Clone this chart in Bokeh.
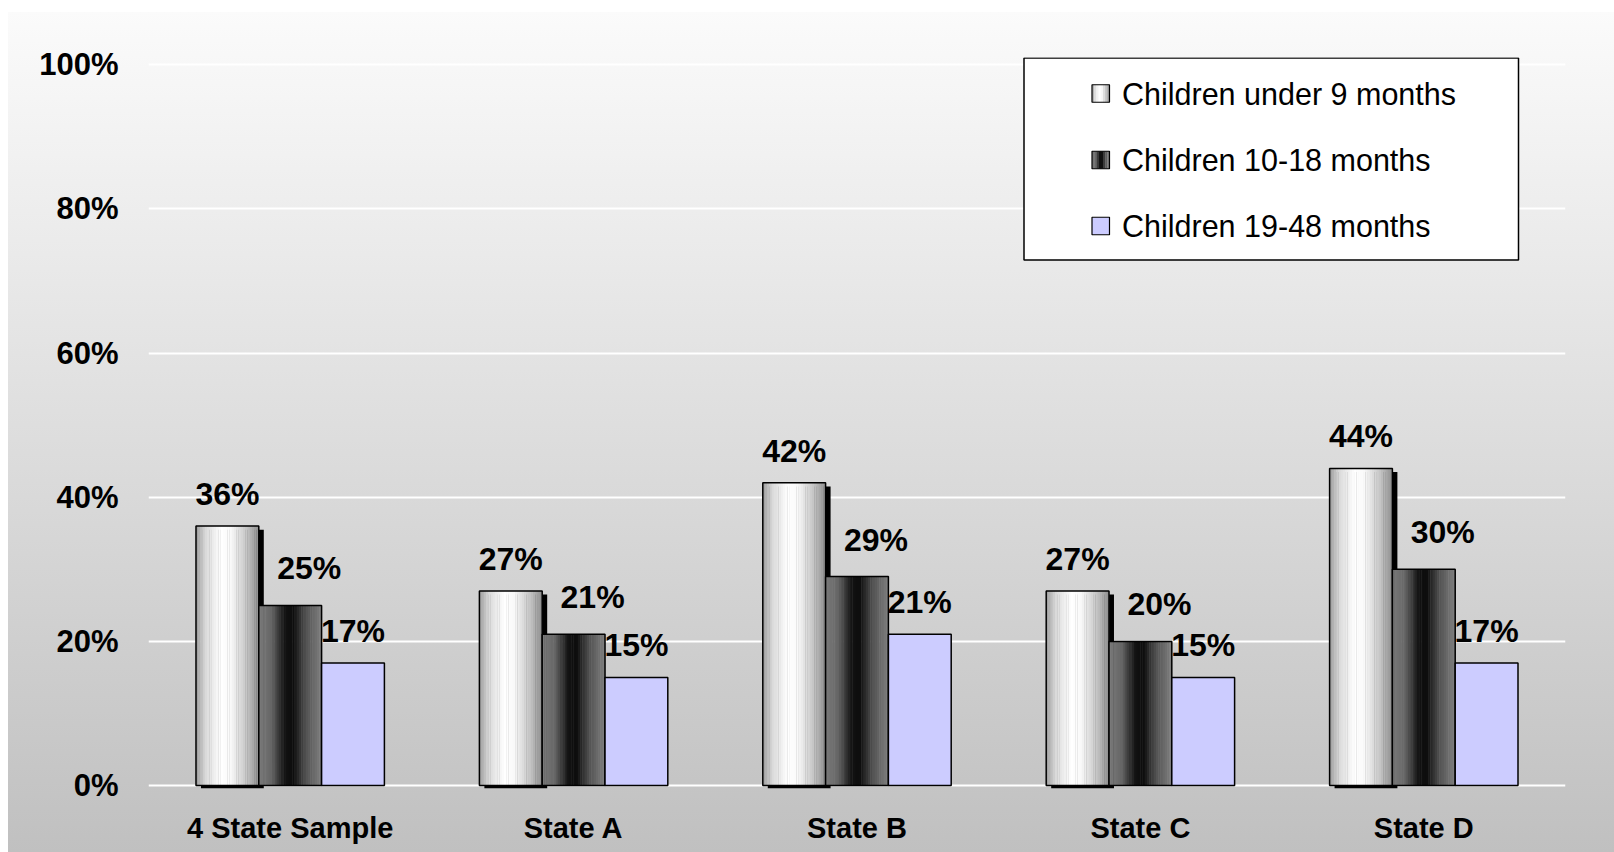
import numpy as np
from bokeh.plotting import figure
from bokeh.models import ColumnDataSource, Range1d, FixedTicker
from bokeh.transform import dodge
from bokeh.core.properties import value
from bokeh.embed import file_html
from bokeh.resources import INLINE

# ---------------- data ----------------
categories = ["4 State Sample", "State A", "State B", "State C", "State D"]
series_names = ["Children under 9 months", "Children 10-18 months", "Children 19-48 months"]
under_9 = [0.36, 0.27, 0.42, 0.27, 0.44]
m10_18 = [0.25, 0.21, 0.29, 0.20, 0.30]
m19_48 = [0.17, 0.15, 0.21, 0.15, 0.17]
y_ticks = [0, 0.2, 0.4, 0.6, 0.8, 1.0]
y_tick_labels = ["0%", "20%", "40%", "60%", "80%", "100%"]

# ---------------- style ----------------
FONT = "Liberation Sans"
FW, FH = 1417, 731
W = 0.2216  # bar width in category units

xpos = [i + 0.5 for i in range(len(categories))]
src = ColumnDataSource(dict(
    x=xpos,
    s1=under_9, s2=m10_18, s3=m19_48,
    s1_shadow=[v - 0.005 for v in under_9],
    l1=[f"{round(v * 100)}%" for v in under_9],
    l2=[f"{round(v * 100)}%" for v in m10_18],
    l3=[f"{round(v * 100)}%" for v in m19_48],
))

p = figure(x_range=Range1d(0, len(categories)), y_range=Range1d(-0.004, 1.01),
           frame_width=FW, frame_height=FH,
           min_border_left=148, min_border_right=49, min_border_top=57, min_border_bottom=64,
           output_backend="svg", toolbar_location=None)
p.styles = {"background": "linear-gradient(to right, #ffffff 8px, rgba(255,255,255,0) 8px), "
                          "linear-gradient(to bottom, #ffffff 12px, #fbfbfb 12px, #c0c0c0 100%)"}
p.background_fill_alpha = 0
p.border_fill_alpha = 0
p.outline_line_color = None

p.extra_x_ranges = {"lx": Range1d(0, FW)}
p.extra_y_ranges = {"ly": Range1d(0, FH)}

# axes
p.xaxis.ticker = FixedTicker(ticks=xpos)
p.xaxis.major_label_overrides = {x: c for x, c in zip(xpos, categories)}
p.yaxis.ticker = FixedTicker(ticks=y_ticks)
p.yaxis.major_label_overrides = {t: l for t, l in zip(y_ticks, y_tick_labels)}
for ax in (p.xaxis[0], p.yaxis[0]):
    ax.axis_line_color = None
    ax.major_tick_line_color = None
    ax.minor_tick_line_color = None
    ax.major_tick_out = 0
    ax.major_tick_in = 0
    ax.major_label_text_font = FONT
    ax.major_label_text_font_style = "bold"
    ax.major_label_text_color = "black"
p.yaxis.major_label_text_font_size = "31px"
p.yaxis.major_label_standoff = 30
p.xaxis.major_label_text_font_size = "29px"
p.xaxis.major_label_standoff = 23

p.xgrid.grid_line_color = None
p.ygrid.ticker = FixedTicker(ticks=y_ticks)
p.ygrid.grid_line_color = "white"
p.ygrid.grid_line_width = 2


def grey(stops, t):
    xs = [s[0] for s in stops]
    vs = [s[1] for s in stops]
    g = int(round(np.interp(t, xs, vs) * 255))
    return "#%02x%02x%02x" % (g, g, g)


stops1 = [(0, 0.60), (0.15, 0.85), (0.40, 1.0), (0.55, 0.98), (0.8, 0.78), (1.0, 0.56)]
stops2 = [(0, 0.48), (0.2, 0.40), (0.42, 0.07), (0.55, 0.05), (0.75, 0.32), (1.0, 0.50)]

# shadow behind first series
p.vbar(x=dodge("x", -W + 0.0176), top="s1_shadow", bottom=-0.004,
       width=W, source=src, fill_color="black", line_color=None)

N = 28
series = [(-W, "s1", stops1), (0.0, "s2", stops2), (W, "s3", None)]
for off, field, stops in series:
    if stops is None:
        p.vbar(x=dodge("x", off), top=field, bottom=0, width=W, source=src,
               fill_color="#ccccff", line_color="black", line_width=1.5)
        continue
    for i in range(N):
        c = off - W / 2 + (i + 0.5) * W / N
        p.vbar(x=dodge("x", c), top=field, bottom=0, width=W / N * 1.2,
               source=src, fill_color=grey(stops, (i + 0.5) / N), line_color=None)
    p.vbar(x=dodge("x", off), top=field, bottom=0, width=W, source=src,
           fill_color=None, line_color="black", line_width=1.5)

# value labels
lab_cfg = [(-W, "s1", "l1", 0, -32), (0.0, "s2", "l2", 19, -37), (W, "s3", "l3", 0, -32)]
for off, field, lab, xo, yo in lab_cfg:
    p.text(x=dodge("x", off), y=field, text=lab, source=src,
           x_offset=xo, y_offset=yo, text_align="center", text_baseline="alphabetic",
           text_font=value(FONT), text_font_style="bold", text_font_size="32px",
           text_color="black")

# legend (drawn in pixel coordinates of the frame)
p.quad(left=875.5, right=1370, top=730.5, bottom=528.5, x_range_name="lx", y_range_name="ly",
       fill_color="white", line_color="black", line_width=1.5)
row_y = [695, 628.5, 562.5]
mk_l, mk_r, mk_h = 943.5, 961.0, 8.75
M = 8
for r, stops in enumerate([stops1, stops2, None]):
    yc = row_y[r]
    if stops is None:
        p.quad(left=mk_l, right=mk_r, top=yc + mk_h, bottom=yc - mk_h, x_range_name="lx",
               y_range_name="ly", fill_color="#ccccff", line_color="black", line_width=1.2)
        continue
    sw = (mk_r - mk_l) / M
    for i in range(M):
        p.quad(left=mk_l + i * sw, right=mk_l + (i + 1) * sw + 0.3, top=yc + mk_h, bottom=yc - mk_h,
               x_range_name="lx", y_range_name="ly", fill_color=grey(stops, (i + 0.5) / M),
               line_color=None)
    p.quad(left=mk_l, right=mk_r, top=yc + mk_h, bottom=yc - mk_h, x_range_name="lx",
           y_range_name="ly", fill_color=None, line_color="black", line_width=1.2)

p.text(x=[973.5] * 3, y=row_y, text=series_names, x_range_name="lx", y_range_name="ly",
       text_align="left", text_baseline="middle", text_font=value(FONT),
       text_font_size="30.5px", text_color="black")

open("out.html", "w").write(file_html(p, INLINE))
